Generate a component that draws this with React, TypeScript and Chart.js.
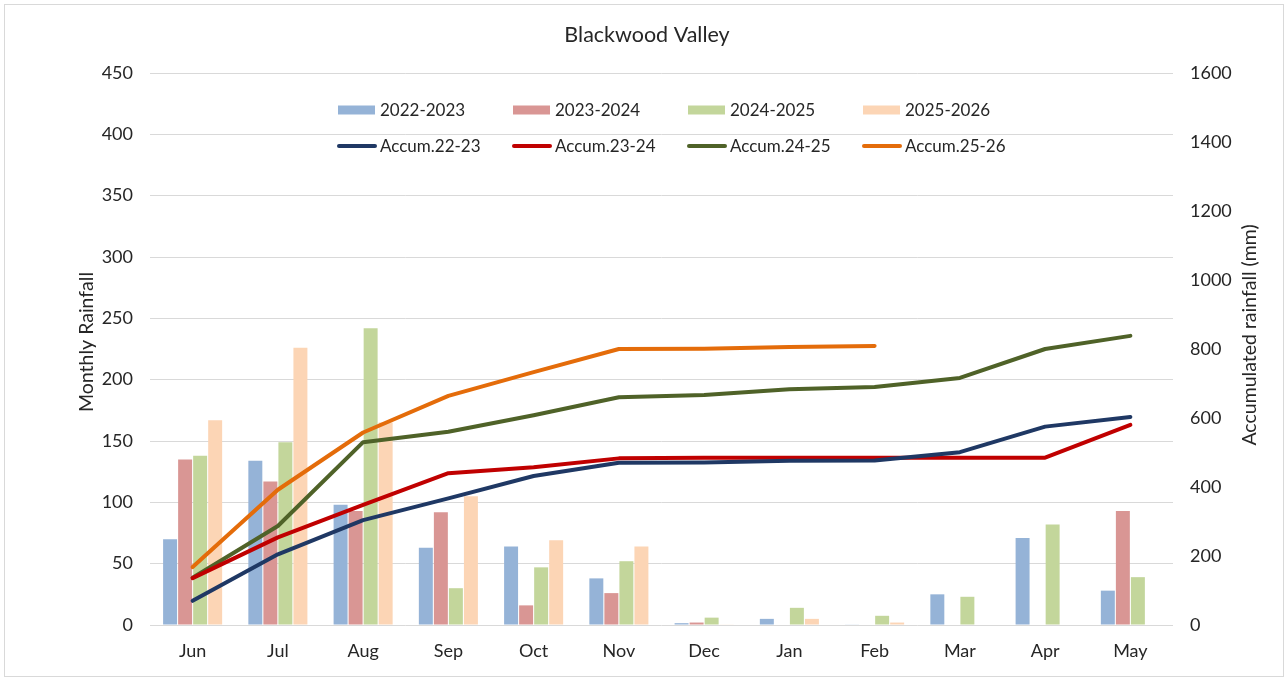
import React, { useEffect, useRef } from "react";
import { Chart, registerables } from "chart.js";

Chart.register(...registerables);

const months = ["Jun", "Jul", "Aug", "Sep", "Oct", "Nov", "Dec", "Jan", "Feb", "Mar", "Apr", "May"];

const rain2223 = [70, 134, 98, 63, 64, 38, 1.5, 5, 0.5, 25, 71, 28];
const rain2324 = [135, 117, 93, 92, 16, 26, 2, 0, 0, 0, 0, 93];
const rain2425 = [138, 149, 242, 30, 47, 52, 6, 14, 7.5, 23, 82, 39];
const rain2526 = [167, 226, 165, 105, 69, 64, 0.5, 5, 2, null, null, null];

const accum2223 = [70, 205, 304, 367, 432, 470, 471, 476, 477, 501, 575, 603];
const accum2324 = [136, 254, 348, 440, 457, 483, 485, 485, 485, 485, 485, 580];
const accum2425 = [137, 287, 530, 560, 608, 660, 667, 683, 690, 716, 800, 838];
const accum2526 = [168, 392, 558, 664, 733, 800, 801, 806, 809, null, null, null];

const barLabels = ["2022-2023", "2023-2024", "2024-2025", "2025-2026"];
const lineLabels = ["Accum.22-23", "Accum.23-24", "Accum.24-25", "Accum.25-26"];
const barColors = ["#95B3D7", "#D99694", "#C3D69B", "#FCD5B5"];
const lineColors = ["#1F3864", "#C00000", "#4F6228", "#E46C0A"];

const chartTitle = "Blackwood Valley";
const leftTitle = "Monthly Rainfall";
const rightTitle = "Accumulated rainfall (mm)";

const FONT = "Lato, 'Open Sans', sans-serif";
const TEXT = "#262626";

const decorPlugin = {
  id: "decor",
  beforeDraw(chart: any) {
    const { ctx, width, height } = chart;
    ctx.save();
    ctx.fillStyle = "#ffffff";
    ctx.fillRect(0, 0, width, height);
    ctx.strokeStyle = "#d9d9d9";
    ctx.lineWidth = 1;
    ctx.strokeRect(4.5, 4.5, width - 9, height - 9);
    ctx.restore();
  },
  afterDraw(chart: any) {
    const { ctx } = chart;
    ctx.save();
    ctx.fillStyle = TEXT;
    ctx.font = `21.5px ${FONT}`;
    ctx.textAlign = "center";
    ctx.textBaseline = "middle";
    ctx.fillText(chartTitle, 647, 35);

    // axis titles, both reading bottom-to-top
    ctx.font = `19.5px ${FONT}`;
    ctx.save();
    ctx.translate(87, 342);
    ctx.rotate(-Math.PI / 2);
    ctx.fillText(leftTitle, 0, 0);
    ctx.restore();
    ctx.save();
    ctx.translate(1250, 335);
    ctx.rotate(-Math.PI / 2);
    ctx.fillText(rightTitle, 0, 0);
    ctx.restore();

    ctx.font = `17px ${FONT}`;
    ctx.textAlign = "left";
    chart.data.datasets.forEach((ds: any, i: number) => {
      const row = i < 4 ? 0 : 1;
      const col = i % 4;
      const x0 = 338 + col * 175;
      const y = row === 0 ? 110 : 146;
      if (ds.type === "bar") {
        ctx.fillStyle = ds.backgroundColor;
        ctx.fillRect(x0, y - 4.5, 37, 9);
      } else {
        ctx.strokeStyle = ds.borderColor;
        ctx.lineWidth = 4;
        ctx.lineCap = "round";
        ctx.beginPath();
        ctx.moveTo(x0 + 1, y);
        ctx.lineTo(x0 + 37, y);
        ctx.stroke();
      }
      ctx.fillStyle = TEXT;
      ctx.fillText(ds.label, x0 + 42, y + 1);
    });
    ctx.restore();
  },
};

export default function App() {
  const ref = useRef<HTMLCanvasElement | null>(null);

  useEffect(() => {
    document.body.style.margin = "0";
    const barSets = [rain2223, rain2324, rain2425, rain2526].map((d, i) => ({
      type: "bar" as const,
      label: barLabels[i],
      data: d,
      backgroundColor: barColors[i],
      yAxisID: "y",
      order: 2,
      categoryPercentage: 0.705,
      barPercentage: 0.93,
    }));
    const lineSets = [accum2223, accum2324, accum2425, accum2526].map((d, i) => ({
      type: "line" as const,
      label: lineLabels[i],
      data: d,
      borderColor: lineColors[i],
      backgroundColor: lineColors[i],
      borderWidth: 4,
      pointRadius: 0,
      tension: 0,
      borderCapStyle: "round",
      borderJoinStyle: "round",
      yAxisID: "y2",
      order: 1,
      spanGaps: false,
    }));
    const tickFont = { family: FONT, size: 18 };
    const chart = new Chart(ref.current as HTMLCanvasElement, {
      type: "bar",
      data: { labels: months, datasets: [...barSets, ...lineSets] as any },
      plugins: [decorPlugin],
      options: {
        responsive: false,
        animation: false,
        layout: { padding: { top: 73, left: 78, right: 28, bottom: 10 } },
        plugins: {
          legend: { display: false },
          title: { display: false },
          tooltip: { enabled: false },
        },
        scales: {
          x: {
            grid: { display: false, drawTicks: false },
            border: { display: false },
            ticks: { color: TEXT, font: tickFont, padding: 15 },
            afterFit: (s: any) => { s.height = 46; },
          },
          y: {
            position: "left",
            min: 0,
            max: 450,
            ticks: { stepSize: 50, color: TEXT, font: tickFont, padding: 17 },
            grid: { color: "#d9d9d9", drawTicks: false, lineWidth: 1 },
            border: { display: false },
            title: { display: false },
            afterFit: (s: any) => { s.width = 72; },
          },
          y2: {
            position: "right",
            min: 0,
            max: 1600,
            ticks: {
              stepSize: 200,
              color: TEXT,
              font: tickFont,
              padding: 17,
              callback: (v: any) => String(v),
            },
            grid: { display: false, drawTicks: false },
            border: { display: false },
            title: { display: false },
            afterFit: (s: any) => { s.width = 87; },
          },
        },
      } as any,
    });
    return () => chart.destroy();
  }, []);

  return (
    <div style={{ width: 1288, height: 681 }}>
      <canvas ref={ref} width={1288} height={681} style={{ display: "block" }} />
    </div>
  );
}
